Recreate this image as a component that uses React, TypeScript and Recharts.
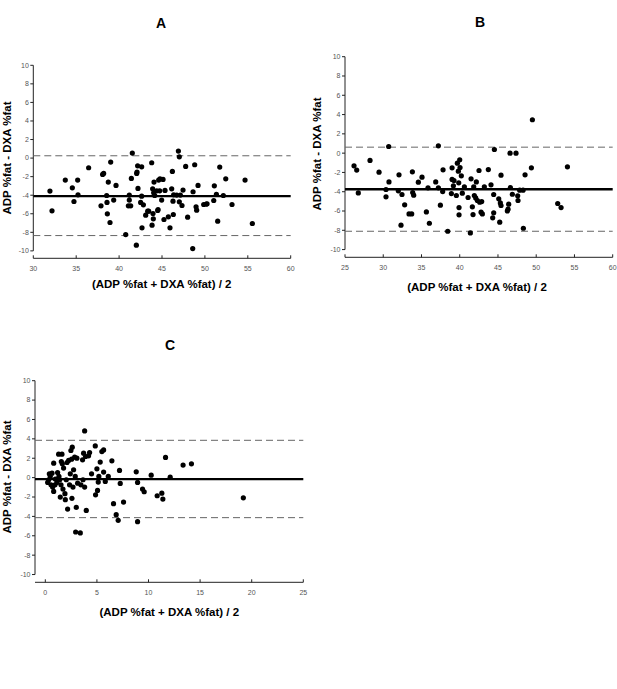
import React from "react";
import { ScatterChart, Scatter, XAxis, YAxis, ReferenceLine } from "recharts";

// ---------- data ----------
const yTicks = [-10, -8, -6, -4, -2, 0, 2, 4, 6, 8, 10];
const xTicksA = [30, 35, 40, 45, 50, 55, 60];
const xTicksB = [25, 30, 35, 40, 45, 50, 55, 60];
const xTicksC = [0, 5, 10, 15, 20, 25];

const panelAX = [31.94, 32.18, 33.73, 34.55, 34.74, 35.17, 35.21, 36.45, 37.89, 38.08, 38.2, 38.55, 38.59, 38.63, 38.74, 38.94, 39.02, 39.37, 39.64, 40.77, 41.08, 41.19, 41.19, 41.35, 41.43, 41.54, 42.01, 42.05, 42.09, 42.16, 42.2, 42.51, 42.63, 42.63, 42.67, 42.83, 43.1, 43.33, 43.45, 43.8, 43.84, 43.91, 43.95, 43.99, 44.03, 44.07, 44.15, 44.38, 44.5, 44.54, 44.61, 44.77, 44.73, 44.96, 45.12, 45.23, 45.35, 45.74, 45.93, 46.13, 46.21, 46.28, 46.32, 46.36, 46.71, 46.91, 47.02, 47.02, 47.14, 47.33, 47.45, 47.76, 47.99, 48.62, 48.58, 48.81, 48.97, 49.04, 49.2, 49.86, 50.17, 50.25, 51.03, 51.1, 51.34, 51.49, 51.73, 52.15, 52.43, 53.16, 54.68, 55.53];
const panelAY = [-3.56, -5.68, -2.37, -3.2, -4.68, -2.37, -3.96, -1.04, -5.14, -1.76, -1.65, -4.03, -4.78, -6.01, -2.59, -6.94, -0.43, -4.53, -2.95, -8.24, -5.14, -3.99, -4.53, -5.14, -2.19, 0.54, -9.39, -1.65, -1.51, -0.83, -3.27, -4.78, -0.94, -4.1, -7.52, -5.04, -6.15, -5.72, -5.72, -0.5, -7.23, -3.31, -5.97, -6.55, -3.74, -2.59, -4.03, -3.53, -5.65, -5.54, -2.37, -2.23, -3.53, -4.53, -2.3, -6.62, -3.49, -6.33, -7.52, -3.31, -1.44, -4.64, -6.08, -3.96, -3.99, 0.76, 0.14, -4.71, -3.99, -5.11, -3.45, -0.9, -6.37, -3.63, -9.75, -0.72, -5.25, -5.61, -2.95, -5.0, -4.96, -4.93, -4.57, -2.99, -3.92, -6.8, -0.97, -4.03, -2.23, -5.0, -2.37, -7.05];

const panelBX = [26.18, 26.53, 26.74, 28.27, 29.45, 30.36, 30.36, 30.71, 30.75, 31.97, 32.06, 32.32, 32.45, 32.8, 33.37, 33.72, 33.81, 33.85, 33.98, 34.59, 35.07, 35.64, 35.85, 36.03, 36.86, 37.21, 37.21, 37.47, 37.77, 37.82, 38.43, 38.91, 39.0, 39.0, 39.17, 39.25, 39.56, 39.69, 39.82, 39.87, 39.91, 39.91, 40.0, 40.04, 40.21, 40.34, 40.61, 41.09, 41.39, 41.48, 41.65, 41.74, 41.83, 41.91, 42.09, 42.17, 42.31, 42.52, 42.61, 42.79, 42.87, 42.96, 43.22, 43.74, 44.09, 44.31, 44.44, 44.44, 44.53, 45.1, 45.23, 45.31, 45.4, 45.4, 46.23, 46.32, 46.4, 46.58, 46.62, 46.88, 47.36, 47.58, 47.62, 47.84, 48.28, 48.32, 48.54, 49.37, 49.5, 52.81, 53.25, 54.08];
const panelBY = [-1.31, -1.76, -4.12, -0.76, -1.97, -3.77, -4.53, 0.69, -2.98, -3.91, -2.25, -7.47, -4.29, -5.36, -6.3, -6.3, -1.94, -4.08, -4.36, -3.01, -2.49, -6.09, -3.6, -7.27, -2.98, 0.76, -3.6, -5.4, -3.98, -1.73, -8.1, -4.19, -1.52, -2.73, -3.39, -2.84, -4.39, -1.04, -1.87, -3.08, -5.64, -6.4, -0.69, -1.49, -2.35, -4.15, -3.49, -4.6, -8.27, -2.66, -5.57, -6.37, -3.49, -4.39, -4.64, -2.98, -4.91, -1.8, -5.09, -6.12, -5.02, -6.3, -3.49, -1.7, -3.29, -6.71, -4.29, -6.19, 0.38, -4.74, -7.16, -5.16, -5.43, -2.28, -5.99, -5.81, -5.29, 0.0, -3.56, -4.26, 0.0, -4.43, -4.91, -3.84, -3.84, -7.79, -2.25, -1.52, 3.46, -5.22, -5.64, -1.42];

const panelCX = [0.23, 0.32, 0.39, 0.48, 0.55, 0.65, 0.71, 0.81, 0.81, 0.94, 0.97, 1.13, 1.19, 1.29, 1.32, 1.39, 1.45, 1.52, 1.55, 1.61, 1.65, 1.71, 1.77, 1.9, 1.94, 2.03, 2.1, 2.16, 2.26, 2.35, 2.42, 2.48, 2.55, 2.58, 2.61, 2.68, 2.74, 2.84, 2.9, 2.94, 3.0, 3.06, 3.13, 3.39, 3.45, 3.61, 3.65, 3.71, 3.81, 3.81, 3.9, 3.97, 4.19, 4.29, 4.48, 4.84, 4.87, 5.0, 5.06, 5.13, 5.19, 5.32, 5.48, 5.65, 5.65, 5.81, 6.1, 6.45, 6.61, 6.87, 7.06, 7.19, 7.26, 7.58, 8.81, 8.94, 8.94, 9.42, 9.58, 10.26, 10.84, 11.29, 11.39, 11.65, 12.1, 13.35, 14.16, 19.19];
const panelCY = [-0.5, -0.22, 0.39, 0.12, -0.74, 0.46, -0.98, -1.42, 1.49, -0.74, -0.15, -0.5, 0.53, 2.42, 0.12, -0.22, -2.01, -0.74, 1.66, 2.42, 1.42, -1.18, 0.98, -1.66, -2.28, -0.22, 1.56, -3.24, 1.77, -0.74, 0.39, 2.8, 1.9, -2.14, 3.14, -0.98, 0.81, 2.11, 0.12, -5.61, -3.07, 2.01, -0.57, -5.71, -0.74, 1.84, -0.22, 2.52, -0.98, 4.82, 2.18, -3.38, 2.25, 2.59, 0.39, 3.27, -1.77, 0.91, -1.32, -0.46, 0.12, 1.6, 2.69, 2.86, 0.57, -0.39, 0.12, 1.73, -2.69, -3.82, -4.41, 0.74, -0.6, -2.52, 0.6, -0.5, -4.55, -1.18, -1.46, 0.25, -1.87, -1.6, -2.21, 2.08, 0.05, 1.29, 1.42, -2.08];

// mean difference and limits of agreement [mean, upper, lower]
const statsA = [-4.1, 0.25, -8.35];
const statsB = [-3.74, 0.62, -8.1];
const statsC = [-0.15, 3.85, -4.13];

const titles = ["A", "B", "C"];
const xLabel = "(ADP %fat + DXA %fat) / 2";
const yLabel = "ADP %fat - DXA %fat";

// ---------- components ----------
const FONT = "'Liberation Sans', Arial, sans-serif";
const AXIS = "#222";
const TICKTXT = "#555";

const YTick = (props: any) => {
  const { x, y, payload } = props;
  return (
    <g>
      <line x1={x - 3} x2={x} y1={y} y2={y} stroke={AXIS} strokeWidth={1} />
      <text x={x - 4.5} y={y} dy={2.4} textAnchor="end" fontSize={7} fill={TICKTXT} fontFamily={FONT}>
        {payload.value}
      </text>
    </g>
  );
};

const XTick = (props: any) => {
  const { x, y, payload } = props;
  return (
    <g>
      <line x1={x} x2={x} y1={y} y2={y - 3} stroke={AXIS} strokeWidth={1} />
      <text x={x} y={y} dy={12.5} textAnchor="middle" fontSize={7} fill={TICKTXT} fontFamily={FONT}>
        {payload.value}
      </text>
    </g>
  );
};

const Dot = (props: any) => <circle cx={props.cx} cy={props.cy} r={2.6} fill="#000" />;

type PanelProps = {
  left: number;
  top: number;
  width: number;
  height: number;
  margin: { top: number; right: number; bottom: number; left: number };
  xs: number[];
  ys: number[];
  xDomain: [number, number];
  xTicks: number[];
  stats: number[];
};

function Panel(p: PanelProps) {
  const data = p.xs.map((x, i) => ({ x, y: p.ys[i] }));
  const x0 = p.xDomain[0];
  return (
    <div style={{ position: "absolute", left: p.left, top: p.top }}>
      <ScatterChart width={p.width} height={p.height} margin={p.margin}>
        <XAxis
          type="number"
          dataKey="x"
          domain={p.xDomain}
          ticks={p.xTicks}
          interval={0}
          allowDataOverflow
          height={20}
          tickSize={0}
          tickMargin={0}
          tickLine={false}
          axisLine={{ stroke: AXIS, strokeWidth: 1 }}
          tick={<XTick />}
        />
        <YAxis
          type="number"
          dataKey="y"
          domain={[-10.8, 10]}
          ticks={yTicks}
          interval={0}
          allowDataOverflow
          width={33}
          tickSize={0}
          tickMargin={0}
          tickLine={false}
          axisLine={false}
          tick={<YTick />}
        />
        <ReferenceLine
          segment={[
            { x: x0, y: -10 },
            { x: x0, y: 10 },
          ]}
          stroke={AXIS}
          strokeWidth={1}
        />
        <ReferenceLine y={p.stats[1]} stroke="#666" strokeWidth={1} strokeDasharray="7 4" />
        <ReferenceLine y={p.stats[2]} stroke="#666" strokeWidth={1} strokeDasharray="7 4" />
        <ReferenceLine y={p.stats[0]} stroke="#000" strokeWidth={2.4} />
        <Scatter data={data} shape={<Dot />} isAnimationActive={false} />
      </ScatterChart>
    </div>
  );
}

const textBase: React.CSSProperties = {
  position: "absolute",
  fontFamily: FONT,
  fontWeight: "bold",
  color: "#000",
  whiteSpace: "nowrap",
  lineHeight: 1,
};

function Title({ x, y, text }: { x: number; y: number; text: string }) {
  return (
    <div style={{ ...textBase, left: x, top: y, fontSize: 14, transform: "translate(-50%, -50%)" }}>{text}</div>
  );
}

function XLab({ x, y }: { x: number; y: number }) {
  return (
    <div style={{ ...textBase, left: x, top: y, fontSize: 11.5, transform: "translate(-50%, -50%)" }}>{xLabel}</div>
  );
}

function YLab({ x, y }: { x: number; y: number }) {
  return (
    <div
      style={{
        ...textBase,
        left: x,
        top: y,
        fontSize: 11.5,
        transform: "translate(-50%, -50%) rotate(-90deg)",
      }}
    >
      {yLabel}
    </div>
  );
}

export default function App() {
  return (
    <div style={{ position: "absolute", left: 0, top: 0, width: 617, height: 689, background: "#fff", overflow: "hidden" }}>
      <Panel
        left={0}
        top={0}
        width={300}
        height={300}
        margin={{ top: 65.3, right: 9.3, bottom: 21.7, left: 0.3 }}
        xs={panelAX}
        ys={panelAY}
        xDomain={[30, 60]}
        xTicks={xTicksA}
        stats={statsA}
      />
      <Panel
        left={300}
        top={0}
        width={317}
        height={300}
        margin={{ top: 56.7, right: 4.3, bottom: 22.7, left: 12 }}
        xs={panelBX}
        ys={panelBY}
        xDomain={[25, 60]}
        xTicks={xTicksB}
        stats={statsB}
      />
      <Panel
        left={0}
        top={330}
        width={310}
        height={300}
        margin={{ top: 50.7, right: 6.7, bottom: 27.7, left: 2 }}
        xs={panelCX}
        ys={panelCY}
        xDomain={[-1, 25]}
        xTicks={xTicksC}
        stats={statsC}
      />
      <Title x={161} y={23} text={titles[0]} />
      <Title x={480} y={21.7} text={titles[1]} />
      <Title x={170} y={345} text={titles[2]} />
      <XLab x={161.7} y={285} />
      <XLab x={477} y={287.7} />
      <XLab x={169.3} y={612.7} />
      <YLab x={8} y={157.5} />
      <YLab x={318} y={154} />
      <YLab x={8} y={477} />
    </div>
  );
}
